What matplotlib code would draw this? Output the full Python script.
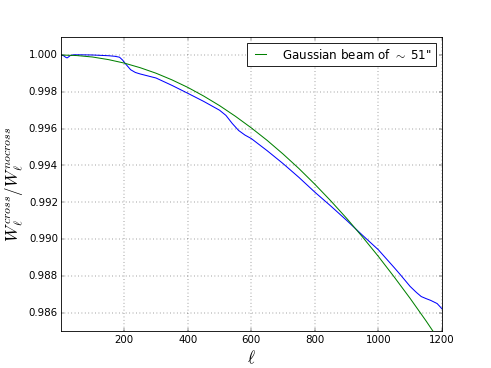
import matplotlib
matplotlib.use("Agg")
import matplotlib.pyplot as plt

plt.style.use("classic")

# Measured ratio (blue)
ell_meas = [2, 10, 15, 20, 25, 30, 40, 60, 100, 150, 170, 185, 195, 200, 210, 220, 235, 250,
            300, 350, 400, 450, 500, 520, 540, 560, 580, 600, 650, 700, 750, 800, 850, 900,
            950, 1000, 1050, 1070, 1100, 1120, 1135, 1150, 1165, 1185, 1200]
ratio_meas = [1.00000, 0.99995, 0.99988, 0.99984, 0.99990, 0.99997, 1.00001, 1.00001, 1.00000,
              0.99996, 0.99993, 0.99988, 0.99972, 0.99960, 0.99940, 0.99920, 0.99905, 0.99897,
              0.99875, 0.99835, 0.99792, 0.99748, 0.99700, 0.99672, 0.99628, 0.99590, 0.99565,
              0.99546, 0.99480, 0.99410, 0.99335, 0.99255, 0.99180, 0.99102, 0.99021, 0.98942,
              0.98845, 0.98805, 0.98743, 0.98710, 0.98688, 0.98677, 0.98667, 0.98650, 0.98622]

# Gaussian beam (green)
ell_gauss = [0, 50, 100, 150, 200, 250, 300, 350, 400, 450, 500, 550, 600, 650, 700, 750,
             800, 850, 900, 950, 1000, 1050, 1100, 1150, 1200]
ratio_gauss = [1.00000, 0.99997, 0.99989, 0.99975, 0.99956, 0.99931, 0.99901, 0.99865,
               0.99824, 0.99777, 0.99725, 0.99667, 0.99604, 0.99536, 0.99462, 0.99383,
               0.99298, 0.99208, 0.99113, 0.99012, 0.98906, 0.98794, 0.98678, 0.98556,
               0.98428]

fig = plt.figure(figsize=(8, 6), dpi=61.375)
ax = fig.add_axes([0.125, 0.1, 0.775, 0.8])
ax.plot(ell_meas, ratio_meas, color="b", lw=1.2)
ax.plot(ell_gauss, ratio_gauss, color="g", lw=1.2, label='Gaussian beam of $\\sim$ 51"')
ax.set_xlim(2, 1200)
ax.set_ylim(0.985, 1.001)
ax.set_xticks([200, 400, 600, 800, 1000, 1200])
ax.set_yticks([0.986, 0.988, 0.990, 0.992, 0.994, 0.996, 0.998, 1.000])
ax.set_yticklabels(["%.3f" % v for v in [0.986, 0.988, 0.990, 0.992, 0.994, 0.996, 0.998, 1.000]])
ax.grid(True)
ax.set_xlabel(r"$\ell$", fontsize=20)
ax.set_ylabel(r"$W_\ell^{cross}/W_\ell^{nocross}$", fontsize=20)
ax.legend(loc="upper right", fontsize=14, handlelength=1.5, handletextpad=1.0)
fig.savefig("out.png", dpi=61.375)
